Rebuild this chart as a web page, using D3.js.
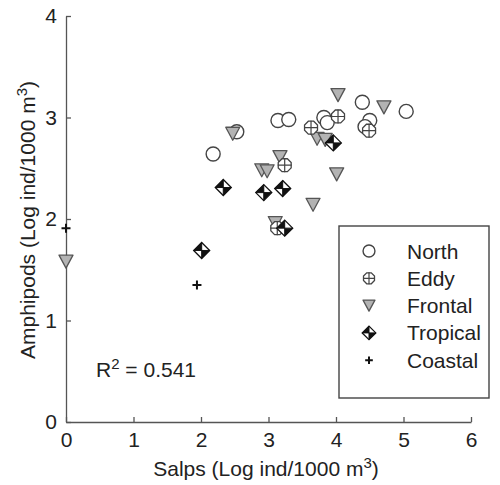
<!DOCTYPE html>
<html>
<head>
<meta charset="utf-8">
<script src="https://cdn.jsdelivr.net/npm/d3@7"></script>
<style>
  body { margin: 0; background: #fff; }
  text { font-family: Arial, "Liberation Sans", sans-serif; fill: #222; }
</style>
</head>
<body>
<div id="chart"></div>
<script>
// values: [salps, amphipods]
const north = [[2.18, 2.64], [2.53, 2.86], [3.14, 2.97], [3.30, 2.98], [3.82, 3.00],
  [3.87, 2.95], [4.39, 3.15], [4.50, 2.97], [4.43, 2.91], [5.04, 3.06]];
const frontal = [[2.47, 2.84], [2.90, 2.48], [2.98, 2.47], [3.17, 2.61], [4.03, 3.22],
  [4.71, 3.10], [3.72, 2.79], [3.84, 2.78], [4.01, 2.44], [3.66, 2.14], [3.10, 1.96], [0, 1.58]];
const eddy = [[3.24, 2.53], [4.03, 3.01], [3.63, 2.90], [4.49, 2.87], [3.13, 1.91]];
const tropical = [[2.33, 2.31], [2.01, 1.69], [2.93, 2.26], [3.21, 2.30], [3.96, 2.75], [3.24, 1.91]];
const coastal = [[0, 1.91], [1.94, 1.35]];

const xTicks = [0, 1, 2, 3, 4, 5, 6];
const yTicks = [0, 1, 2, 3, 4];
const groupNames = ["North", "Eddy", "Frontal", "Tropical", "Coastal"];
const rSquared = "0.541";

const width = 500, height = 485;
const axisColor = "#555";
const fontSize = 21;

const svg = d3.select("#chart").append("svg")
  .attr("width", width).attr("height", height);

const x = d3.scaleLinear().domain([0, 6]).range([66, 471]);
const y = d3.scaleLinear().domain([0, 4]).range([422, 16]);

//axes, ticks point inward
const gx = svg.append("g")
  .attr("transform", `translate(0,${y(0)})`)
  .call(d3.axisBottom(x).tickValues(xTicks).tickFormat(d3.format("d"))
    .tickSizeInner(-5).tickSizeOuter(0).tickPadding(10));
const gy = svg.append("g")
  .attr("transform", `translate(${x(0)},0)`)
  .call(d3.axisLeft(y).tickValues(yTicks).tickFormat(d3.format("d"))
    .tickSizeInner(-5).tickSizeOuter(0).tickPadding(9));
[gx, gy].forEach((g) => {
  g.selectAll("path, line").attr("stroke", axisColor).attr("stroke-width", 1.3);
  g.selectAll("text").attr("font-size", fontSize).attr("fill", "#222")
    .style("font-family", "Arial, 'Liberation Sans', sans-serif");
});

//axis titles
const xTitle = svg.append("text")
  .attr("x", 266).attr("y", 476)
  .attr("text-anchor", "middle").attr("font-size", fontSize);
xTitle.append("tspan").text("Salps (Log ind/1000 m");
xTitle.append("tspan").attr("dy", -8).attr("font-size", 15).text("3");
xTitle.append("tspan").attr("dy", 8).text(")");

const yTitle = svg.append("text")
  .attr("transform", `translate(35,220)rotate(-90)`)
  .attr("text-anchor", "middle").attr("font-size", fontSize);
yTitle.append("tspan").text("Amphipods (Log ind/1000 m");
yTitle.append("tspan").attr("dy", -8).attr("font-size", 15).text("3");
yTitle.append("tspan").attr("dy", 8).text(")");

//r squared
const rText = svg.append("text")
  .attr("x", 96).attr("y", 377).attr("font-size", fontSize);
rText.append("tspan").text("R");
rText.append("tspan").attr("dy", -8).attr("font-size", 15).text("2");
rText.append("tspan").attr("dy", 8).text(" = " + rSquared);

//marker drawers
function drawCircle(g, s) {
  g.append("circle").attr("r", 7 * s)
    .attr("fill", "#fff").attr("stroke", "#444").attr("stroke-width", 1.4);
}
function drawEddy(g, s) {
  const r = 7 * s;
  const pts = d3.range(8).map((i) => {
    const a = Math.PI / 8 + i * Math.PI / 4;
    return [r * Math.cos(a), r * Math.sin(a)];
  });
  g.append("path").attr("d", "M" + pts.join("L") + "Z")
    .attr("fill", "#fff").attr("stroke", "#444").attr("stroke-width", 1.3);
  g.append("path").attr("d", `M${-r},0H${r}M0,${-r}V${r}`)
    .attr("stroke", "#444").attr("stroke-width", 1.2);
}
function drawTriangle(g, s) {
  const w = 7 * s, h = 6.5 * s;
  g.append("path").attr("d", `M${-w},${-h}L${w},${-h}L0,${h}Z`)
    .attr("fill", "#b3b3b3").attr("stroke", "#555").attr("stroke-width", 1.3)
    .attr("stroke-linejoin", "round");
}
function drawTropical(g, s) {
  const r = 8 * s;
  g.append("path").attr("d", `M0,${-r}L${r},0L0,${r}L${-r},0Z`)
    .attr("fill", "#fff").attr("stroke", "#111").attr("stroke-width", 1.3);
  g.append("path").attr("d", `M0,${-r}L${-r},0L0,0Z M0,${r}L${r},0L0,0Z`)
    .attr("fill", "#111");
  g.append("path").attr("d", `M${-r},0H${r}M0,${-r}V${r}`)
    .attr("stroke", "#111").attr("stroke-width", 1);
}
function drawPlus(g, s) {
  const r = 4.5 * s;
  g.append("path").attr("d", `M${-r},0H${r}M0,${-r}V${r}`)
    .attr("stroke", "#111").attr("stroke-width", 2);
}

const groups = [
  { name: "North", data: north, draw: drawCircle },
  { name: "Frontal", data: frontal, draw: drawTriangle },
  { name: "Eddy", data: eddy, draw: drawEddy },
  { name: "Tropical", data: tropical, draw: drawTropical },
  { name: "Coastal", data: coastal, draw: drawPlus },
];

const gDots = svg.append("g");
groups.forEach((grp) => {
  gDots.append("g").selectAll("g.dot")
    .data(grp.data)
    .join("g")
    .attr("class", "dot")
    .attr("transform", (d) => `translate(${x(d[0])},${y(d[1])})`)
    .each(function () { grp.draw(d3.select(this), 1); });
});

//legend
const gLegend = svg.append("g").attr("transform", "translate(339,226)");
gLegend.append("rect")
  .attr("width", 150).attr("height", 172)
  .attr("fill", "#fff").attr("stroke", "#444").attr("stroke-width", 1.4);
const byName = Object.fromEntries(groups.map((g) => [g.name, g]));
const item = gLegend.selectAll("g.item")
  .data(groupNames)
  .join("g")
  .attr("class", "item")
  .attr("transform", (d, i) => `translate(0,${25 + i * 27.3})`);
item.append("g").attr("transform", "translate(30,0)")
  .each(function (d) { byName[d].draw(d3.select(this), 0.85); });
item.append("text")
  .attr("x", 68).attr("dy", "0.36em")
  .attr("font-size", fontSize)
  .text((d) => d);
</script>
</body>
</html>
